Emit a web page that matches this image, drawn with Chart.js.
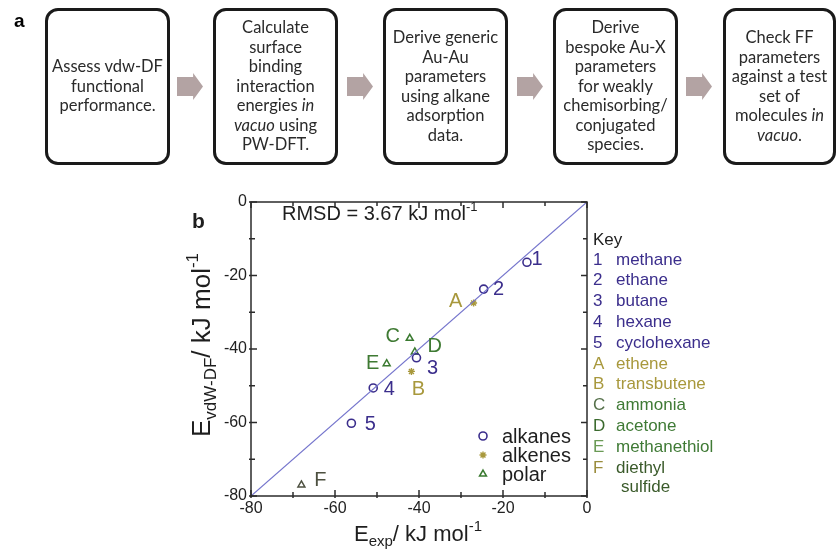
<!DOCTYPE html>
<html>
<head>
<meta charset="utf-8">
<script src="https://cdn.jsdelivr.net/npm/chart.js@4.4.0/dist/chart.umd.min.js"></script>
<style>
  body { margin: 0; background: #fff; }
  #page { position: relative; width: 837px; height: 554px; overflow: hidden; }
  #chart { position: absolute; left: 0; top: 0; }
  .box {
    position: absolute; top: 8px; height: 151px; width: 119px;
    border: 3px solid #1a1a1a; border-radius: 13px;
    display: flex; align-items: center; justify-content: center; text-align: center;
    font-family: Lato, "Open Sans", sans-serif; font-size: 16.5px; line-height: 19.5px; color: #2a2a2a;
  }
  .arrow {
    position: absolute; top: 73px; width: 26px; height: 27px; background: #b3a3a3;
    clip-path: polygon(0 15%, 62% 15%, 62% 0, 100% 50%, 62% 100%, 62% 85%, 0 85%);
  }
  #lblA { position: absolute; left: 14px; top: 11px; font: bold 19px "Liberation Sans", Arial, sans-serif; line-height: 1; }
</style>
</head>
<body>
<div id="page">
  <canvas id="chart" width="837" height="554"></canvas>
  <div id="lblA">a</div>
  <div class="box" style="left:45px"><div>Assess vdw-DF<br>functional<br>performance.</div></div>
  <div class="arrow" style="left:177px"></div>
  <div class="box" style="left:213px"><div>Calculate<br>surface<br>binding<br>interaction<br>energies <i>in</i><br><i>vacuo</i> using<br>PW-DFT.</div></div>
  <div class="arrow" style="left:347px"></div>
  <div class="box" style="left:383px"><div>Derive generic<br>Au-Au<br>parameters<br>using alkane<br>adsorption<br>data.</div></div>
  <div class="arrow" style="left:517px"></div>
  <div class="box" style="left:553px"><div>Derive<br>bespoke Au-X<br>parameters<br>for weakly<br>chemisorbing/<br>conjugated<br>species.</div></div>
  <div class="arrow" style="left:686px"></div>
  <div class="box" style="left:723px; width:107px"><div>Check FF<br>parameters<br>against a test<br>set of<br>molecules <i>in</i><br><i>vacuo</i>.</div></div>
</div>
<script>
// Datos del panel b: E_exp (x) frente a E_vdW-DF (y), kJ/mol
const alcanosX = [-14.3, -24.6, -40.6, -50.9, -56.1];
const alcanosY = [-16.4, -23.7, -42.4, -50.6, -60.2];
const alcanosEtiquetas = ['1', '2', '3', '4', '5'];

const alquenosX = [-27.0, -41.8];
const alquenosY = [-27.5, -46.1];
const alquenosEtiquetas = ['A', 'B'];

const polaresX = [-42.2, -41.0, -47.7, -68.0];
const polaresY = [-37.1, -40.8, -44.0, -77.0];
const polaresEtiquetas = ['C', 'D', 'E', 'F'];

const paridadX = [-80, 0];
const paridadY = [-80, 0];

const ticksMayores = [-80, -60, -40, -20, 0];
const nombresSeries = ['alkanes', 'alkenes', 'polar'];
const claveCodigos = ['1', '2', '3', '4', '5', 'A', 'B', 'C', 'D', 'E', 'F'];
const claveNombres = ['methane', 'ethane', 'butane', 'hexane', 'cyclohexane', 'ethene',
                      'transbutene', 'ammonia', 'acetone', 'methanethiol', 'diethyl', 'sulfide'];
const rmsd = 3.67;

// estilos
const morado = '#3b2e8c';
const oliva = '#a8983c';
const verde = '#3f7a33';
const colorEtiqueta = { '1': morado, '2': morado, '3': morado, '4': morado, '5': morado,
                        'A': oliva, 'B': oliva, 'C': verde, 'D': verde, 'E': verde, 'F': '#4d5040' };
const desplazamiento = { '1': [10, -3], '2': [15, 0], '3': [16, 11], '4': [16, 2], '5': [19, 1],
                         'A': [-18, -2], 'B': [7, 18], 'C': [-17, -2], 'D': [20, -5], 'E': [-14, 0], 'F': [19, -4] };
const colorClaveCod = [morado, morado, morado, morado, morado, oliva, oliva, '#55704a', '#3b6a2e', '#6a9a55', '#9a8c3c', null];
const colorClaveNom = [morado, morado, morado, morado, morado, oliva, oliva, '#3f7a35', '#3f7a35', '#3f7a35', '#3a5a2a', '#3a5a2a'];

const FUENTE = '"Liberation Sans", Arial, sans-serif';
Chart.defaults.font.family = FUENTE;

function puntos(xs, ys) {
    return xs.map((x, i) => ({ x: x, y: ys[i] }));
}

// texto con subíndice / superíndice
function textoRico(ctx, partes, x, y, centrado) {
    let ancho = 0;
    partes.forEach(p => { ctx.font = p.s + 'px ' + FUENTE; ancho += ctx.measureText(p.t).width; });
    let cx = centrado ? x - ancho / 2 : x;
    ctx.textAlign = 'left';
    ctx.textBaseline = 'alphabetic';
    partes.forEach(p => {
        ctx.font = p.s + 'px ' + FUENTE;
        ctx.fillText(p.t, cx, y + (p.dy || 0));
        cx += ctx.measureText(p.t).width;
    });
}

function linea(ctx, x1, y1, x2, y2) {
    ctx.beginPath(); ctx.moveTo(x1, y1); ctx.lineTo(x2, y2); ctx.stroke();
}

const decoracion = {
    id: 'decoracion',
    afterDatasetsDraw(chart) {
        const ctx = chart.ctx;
        ctx.save();
        // etiquetas de los puntos
        ctx.font = '20px ' + FUENTE;
        ctx.textAlign = 'center';
        ctx.textBaseline = 'middle';
        [alcanosEtiquetas, alquenosEtiquetas, polaresEtiquetas].forEach((etqs, i) => {
            const meta = chart.getDatasetMeta(i + 1);
            etqs.forEach((e, j) => {
                const el = meta.data[j];
                const d = desplazamiento[e];
                ctx.fillStyle = colorEtiqueta[e];
                ctx.fillText(e, el.x + d[0], el.y + d[1]);
            });
        });
        ctx.restore();
    },
    afterDraw(chart) {
        const ctx = chart.ctx;
        const a = chart.chartArea;
        const xs = chart.scales.x, ys = chart.scales.y;
        ctx.save();
        ctx.strokeStyle = '#2b2b2b';
        ctx.lineWidth = 1.5;
        ctx.strokeRect(a.left, a.top, a.right - a.left, a.bottom - a.top);
        // marcas hacia dentro
        xs.ticks.forEach(t => {
            const p = xs.getPixelForValue(t.value);
            const l = t.value % 20 === 0 ? 6 : 4;
            linea(ctx, p, a.bottom + 2, p, a.bottom - l);
            linea(ctx, p, a.top, p, a.top + l);
        });
        ys.ticks.forEach(t => {
            const p = ys.getPixelForValue(t.value);
            const l = t.value % 20 === 0 ? 6 : 4;
            linea(ctx, a.left - 2, p, a.left + l, p);
            linea(ctx, a.right, p, a.right - l, p);
        });

        // títulos de ejes
        ctx.fillStyle = '#1e1e1e';
        textoRico(ctx, [{ t: 'E', s: 22 }, { t: 'exp', s: 15, dy: 5 }, { t: '/ kJ mol', s: 22 }, { t: '-1', s: 15, dy: -10 }],
                  (a.left + a.right) / 2 - 1, 541, true);
        ctx.save();
        ctx.translate(210, 345);
        ctx.rotate(-Math.PI / 2);
        textoRico(ctx, [{ t: 'E', s: 26 }, { t: 'vdW-DF', s: 17, dy: 6 }, { t: '/ kJ mol', s: 26 }, { t: '-1', s: 17, dy: -12 }],
                  0, 0, true);
        ctx.restore();

        // letra del panel
        ctx.font = 'bold 21px ' + FUENTE;
        ctx.textAlign = 'left';
        ctx.fillText('b', 192, 228);

        // RMSD
        textoRico(ctx, [{ t: 'RMSD = ' + rmsd.toFixed(2) + ' kJ mol', s: 20 }, { t: '-1', s: 13, dy: -9 }], a.left + 31, 220, false);

        // leyenda interna
        const estilos = chart.data.datasets.slice(1);
        nombresSeries.forEach((n, i) => {
            const yy = 436 + i * 19;
            const ds = estilos[i];
            const col = Array.isArray(ds.borderColor) ? ds.borderColor[0] : ds.borderColor;
            ctx.strokeStyle = col;
            ctx.fillStyle = 'rgba(255,255,255,0)';
            ctx.lineWidth = ds.borderWidth;
            Chart.helpers.drawPoint(ctx, { pointStyle: ds.pointStyle, radius: ds.pointRadius, rotation: 0, borderWidth: ds.borderWidth }, 483, yy);
            ctx.fillStyle = '#1e1e1e';
            ctx.font = '20px ' + FUENTE;
            ctx.textBaseline = 'middle';
            ctx.textAlign = 'left';
            ctx.fillText(n, 502, yy + 1);
        });

        // clave
        ctx.font = '17px ' + FUENTE;
        ctx.textBaseline = 'middle';
        ctx.fillStyle = '#1e1e1e';
        ctx.fillText('Key', a.right + 6, 240);
        claveNombres.forEach((n, i) => {
            const yy = i < 11 ? 260 + i * 20.8 : 487;
            if (claveCodigos[i]) {
                ctx.fillStyle = colorClaveCod[i];
                ctx.fillText(claveCodigos[i], a.right + 6, yy);
            }
            ctx.fillStyle = colorClaveNom[i];
            ctx.fillText(n, a.right + (i < 11 ? 29 : 34), yy);
        });
        ctx.restore();
    }
};

const ctx = document.getElementById('chart').getContext('2d');
new Chart(ctx, {
    type: 'scatter',
    data: {
        datasets: [
            {
                label: 'paridad',
                data: puntos(paridadX, paridadY),
                showLine: true,
                borderColor: '#7474cc',
                borderWidth: 1.2,
                pointRadius: 0
            },
            {
                label: nombresSeries[0],
                data: puntos(alcanosX, alcanosY),
                pointStyle: 'circle',
                pointRadius: 4,
                borderWidth: 1.6,
                borderColor: morado,
                backgroundColor: 'rgba(255,255,255,0)'
            },
            {
                label: nombresSeries[1],
                data: puntos(alquenosX, alquenosY),
                pointStyle: 'star',
                pointRadius: 3.5,
                borderWidth: 1.4,
                borderColor: oliva,
                backgroundColor: oliva
            },
            {
                label: nombresSeries[2],
                data: puntos(polaresX, polaresY),
                pointStyle: 'triangle',
                pointRadius: 4,
                borderWidth: 1.5,
                borderColor: ['#3a7a30', '#3a7a30', '#3a7a30', '#4d5040'],
                backgroundColor: 'rgba(255,255,255,0)'
            }
        ]
    },
    options: {
        responsive: false,
        animation: false,
        devicePixelRatio: 1,
        layout: { padding: { left: 0, top: 202, right: 250, bottom: 0 } },
        plugins: {
            legend: { display: false },
            tooltip: { enabled: false },
            title: { display: false }
        },
        scales: {
            x: {
                type: 'linear',
                min: -80,
                max: 0,
                grid: { display: false, drawTicks: false },
                border: { display: false },
                afterFit: s => { s.height = 58; },
                afterBuildTicks: s => { s.ticks = []; for (let v = -80; v <= 0; v += 10) s.ticks.push({ value: v }); },
                ticks: {
                    autoSkip: false,
                    maxRotation: 0,
                    padding: 3,
                    color: '#222',
                    font: { size: 16 },
                    callback: v => ticksMayores.includes(v) ? String(v) : ''
                }
            },
            y: {
                type: 'linear',
                min: -80,
                max: 0,
                grid: { display: false, drawTicks: false },
                border: { display: false },
                afterFit: s => { s.width = 251; },
                afterBuildTicks: s => { s.ticks = []; for (let v = -80; v <= 0; v += 10) s.ticks.push({ value: v }); },
                ticks: {
                    autoSkip: false,
                    padding: 4,
                    color: '#222',
                    font: { size: 16 },
                    callback: v => ticksMayores.includes(v) ? String(v) : ''
                }
            }
        }
    },
    plugins: [decoracion]
});
</script>
</body>
</html>
